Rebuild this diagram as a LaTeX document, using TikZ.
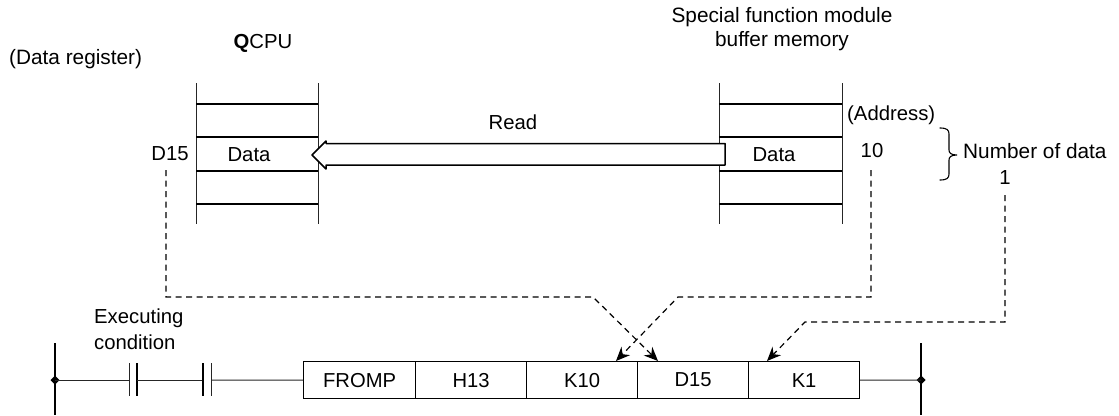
\documentclass[tikz,border=0pt]{standalone}
\usepackage{fontspec}
\setmainfont{Liberation Sans}
\usetikzlibrary{arrows.meta}
\tikzset{
  x=1pt,y=-1pt,
  line/.style={draw=black,line width=1.2pt},
  thinline/.style={draw=black!85,line width=1pt},
  lbl/.style={inner sep=0pt,font=\fontsize{20.3}{24}\selectfont,text=black},
  lbllong/.style={inner sep=0pt,font=\fontsize{20.8}{24}\selectfont,text=black},
  cell/.style={draw=black,line width=1.2pt,minimum height=37pt,inner sep=0pt,anchor=north west,font=\fontsize{20.2}{24}\selectfont,text=black},
  dashconn/.style={draw=black,line width=1.2pt,dash pattern=on 6pt off 4.5pt},
  dashtip/.style={dashconn,-{Stealth[length=14pt,width=12pt]}},
  rail/.style={draw=black,line width=1.4pt},
}
\newcommand{\regtable}[2]{%
  \draw[thinline] (#1,83) -- (#1,224);
  \draw[thinline] (#2,83) -- (#2,224);
  \foreach \yy in {104,137,171,204} \draw[line] (#1,\yy) -- (#2,\yy);
}
\begin{document}
\begin{tikzpicture}
\useasboundingbox (0,0) rectangle (1119,415);
% tables
\regtable{196}{318}
\regtable{719}{842}
% texts
\node[lbl] (qcpu) at (263,43) {\textbf{Q}CPU};
\node[lbllong,anchor=west] (dreg) at (9,59) {(Data register)};
\node[lbllong,anchor=center] (sfm) at (782,17) {Special function module};
\node[lbllong,anchor=center] (buf) at (782,41) {buffer memory};
\node[lbl] (d15) at (170,154) {D15};
\node[lbl] (data1) at (249,155) {Data};
\node[lbl] (data2) at (774,155) {Data};
\node[lbl] (read) at (513,122) {Read};
\node[lbl,anchor=west] (addr) at (847,115) {(Address)};
\node[lbl] (n10) at (872,151) {10};
\node[lbllong,anchor=west] (nod) at (963,151) {Number of data};
\node[lbl] (n1) at (1005,178) {1};
\node[lbl,anchor=west,align=left] (exec) at (94,318) {Executing};
\node[lbl,anchor=west,align=left] (cond) at (94,342) {condition};
% big arrow
\draw[draw=black,line width=1.5pt,fill=white,line join=round]
  (312,155) -- (326,141) -- (326,143.5) -- (725,143.5) -- (725,165) -- (326,165) -- (326,169) -- cycle;
% instruction cells
\node[cell,minimum width=112pt] (c1) at (303,361) {FROMP};
\node[cell,minimum width=111pt] (c2) at (415,361) {H13};
\node[cell,minimum width=111pt] (c3) at (526,361) {K10};
\node[cell,minimum width=111pt] (c4) at (637,361) {D15};
\node[cell,minimum width=111pt] (c5) at (748,361) {K1};
% rails
\coordinate (ltop) at (55,343); \coordinate (lbot) at (55,415);
\coordinate (rtop) at (921,343); \coordinate (rbot) at (921,415);
\draw[rail] (ltop) -- (lbot);
\draw[rail] (rtop) -- (rbot);
\coordinate (lj) at (55,380); \coordinate (rj) at (921,380);
\fill (50.5,380) -- (55,375.5) -- (59.5,380) -- (55,384.5) -- cycle;
\fill (916.5,380) -- (921,375.5) -- (925.5,380) -- (921,384.5) -- cycle;
% contacts and rung
\draw[thinline] (lj) -- (129,380);
\draw[thinline] (129,363) -- (129,396);
\draw[line] (137,363) -- (137,396);
\draw[thinline] (137,380) -- (203,380);
\draw[line] (203,363) -- (203,396);
\draw[thinline] (211,363) -- (211,396);
\draw[thinline] (211,380) -- (c1.west);
\draw[thinline] (c5.east) -- (rj);
% brace
\draw[draw=black,line width=1.1pt,line cap=round]
  (940,128) .. controls (947,128) and (949,130) .. (949,134) -- (949,150)
  .. controls (949,153) and (951,155) .. (957,155)
  .. controls (951,155) and (949,157) .. (949,160) -- (949,174)
  .. controls (949,178) and (947,180) .. (940,180);
% dashed connectors
\coordinate (tipK10) at ([xshift=-21pt]c4.north west);
\coordinate (tipD15) at ([xshift=21pt]c4.north west);
\coordinate (tipK1) at ([xshift=19pt]c5.north west);
\draw[dashtip] (166,170) |- (593,297) -- (tipD15);
\draw[dashtip] (871,170) |- (678,297) -- (tipK10);
\draw[dashtip] (1005,195) |- (805,322) -- (tipK1);
\end{tikzpicture}
\end{document}
